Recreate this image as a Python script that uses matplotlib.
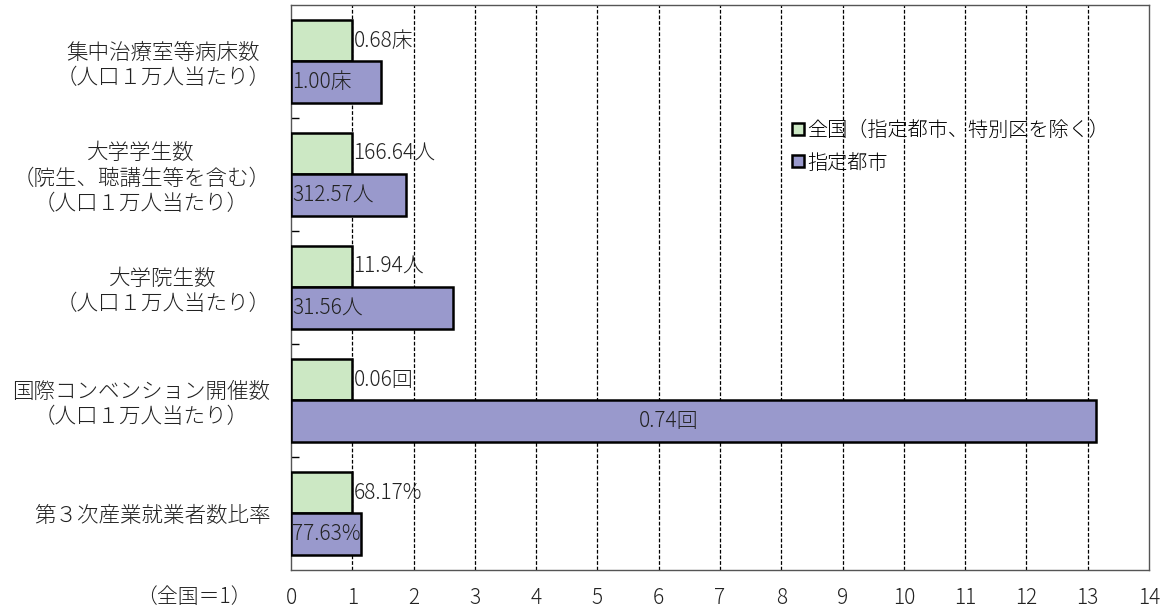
import numpy as np
import matplotlib
matplotlib.use('Agg')
from matplotlib import pyplot as plt

plt.rcParams['font.family'] = ['Noto Sans CJK JP', 'DejaVu Sans']

categories = ['集中治療室等病床数\n（人口１万人当たり）',
              '大学学生数\n（院生、聴講生等を含む）\n（人口１万人当たり）',
              '大学院生数\n（人口１万人当たり）',
              '国際コンベンション開催数\n（人口１万人当たり）',
              '第３次産業就業者数比率']
national = [1, 1, 1, 1, 1]
cities = [1.46, 1.88, 2.64, 13.14, 1.14]
national_labels = ['0.68床', '166.64人', '11.94人', '0.06回', '68.17%']
city_labels = ['1.00床', '312.57人', '31.56人', '0.74回', '77.63%']
series_names = ['全国（指定都市、特別区を除く）', '指定都市']

green = '#cce8c4'
purple = '#9999cc'

fig = plt.figure(figsize=(11.67, 6.14), dpi=100)
ax = fig.add_axes([0.2494, 0.0717, 0.7352, 0.9202])

y = np.arange(len(categories))
h = 0.367
ax.barh(y - h / 2, national, height=h, color=green, edgecolor='black',
        linewidth=1.8, label=series_names[0], zorder=3)
ax.barh(y + h / 2, cities, height=h, color=purple, edgecolor='black',
        linewidth=1.8, label=series_names[1], zorder=3)

# value labels
for i in range(len(categories)):
    ax.text(national[i] + 0.02, y[i] - h / 2, national_labels[i], fontsize=15,
            va='center', ha='left', color='#222222', fontweight='light', zorder=4)
    if cities[i] > 5:
        ax.text(cities[i] / 2 - 0.4, y[i] + h / 2, city_labels[i], fontsize=15,
                va='center', ha='center', color='#222222', fontweight='light', zorder=4)
    else:
        ax.text(0.02, y[i] + h / 2, city_labels[i], fontsize=15,
                va='center', ha='left', color='#222222', fontweight='light', zorder=4)

ax.set_xlim(0, 14)
ax.set_ylim(len(categories) - 0.5, -0.5)
ax.set_xticks(range(15))
ax.tick_params(axis='x', length=0, labelsize=15, pad=12, colors='#222222')
for lab in ax.get_xticklabels():
    lab.set_fontweight('light')

ax.set_yticks(y)
ax.set_yticklabels(categories, fontsize=15.5, color='#222222', fontweight='light')
for lab in ax.get_yticklabels():
    lab.set_multialignment('center')
ax.tick_params(axis='y', length=0, pad=15)
ax.set_yticks(y[:-1] + 0.5, minor=True)
ax.tick_params(axis='y', which='minor', direction='in', length=6, width=1)

for xv in range(1, 14):
    ax.axvline(xv, color='black', linestyle=(0, (3, 1.5)), linewidth=0.9, zorder=1)

for s in ax.spines.values():
    s.set_color('#555555')
    s.set_linewidth(1)

leg = ax.legend(loc='upper left', bbox_to_anchor=(0.575, 0.81), frameon=False,
                fontsize=14.5, handlelength=0.55, handleheight=0.55, handletextpad=0.2,
                labelspacing=0.55, borderaxespad=0)
for t in leg.get_texts():
    t.set_fontweight('light')

fig.text(0.216, 0.028, '（全国＝1）', fontsize=15, ha='right', va='center',
         color='#222222', fontweight='light')

fig.savefig('out.png', dpi=100)
plt.close(fig)
